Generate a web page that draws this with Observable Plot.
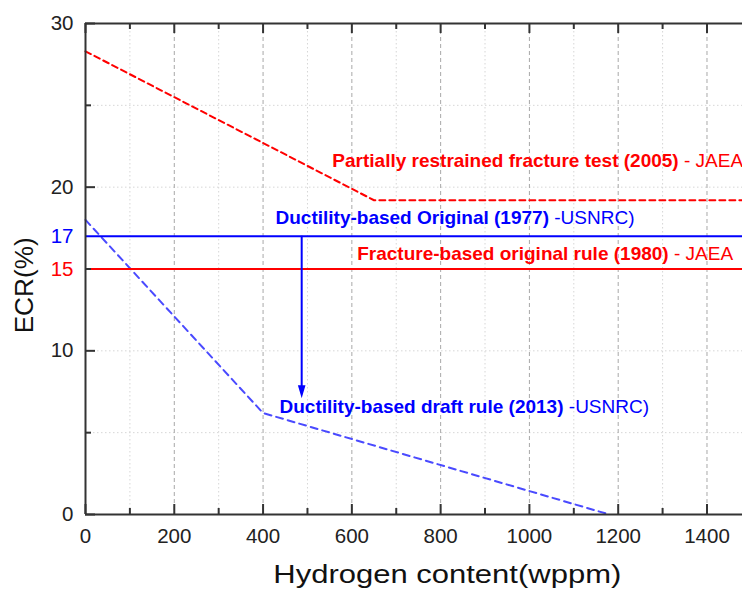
<!DOCTYPE html>
<html>
<head>
<meta charset="utf-8">
<script src="https://cdn.jsdelivr.net/npm/d3@7"></script>
<script src="https://cdn.jsdelivr.net/npm/@observablehq/plot@0.6"></script>
<style>
  html, body { margin: 0; padding: 0; background: #fff; }
</style>
</head>
<body>
<div id="chart"></div>
<script>
// ---- data ----
const xMajorTicks = [0, 200, 400, 600, 800, 1000, 1200, 1400];
const xMinorTicks = [100, 300, 500, 700, 900, 1100, 1300];
const yMajorTicks = [0, 10, 20, 30];
const yMinorTicks = [5, 15, 25];
const xDomain = [0, 1480];
const yDomain = [0, 30];

// Partially restrained fracture test (2005) - JAEA
const partialHydrogen = [0, 650, 1480];
const partialECR = [28.3, 19.2, 19.2];
// Ductility-based draft rule (2013) - USNRC
const draftHydrogen = [0, 400, 1180];
const draftECR = [18.0, 6.2, 0];
// Original limits
const originalUSNRC = 17;
const originalJAEA = 15;
// arrow from original to draft rule
const arrowHydrogen = 487;
const arrowFrom = 17;
const arrowTo = 7.1;

// annotation labels
const labelBold = [
  "Partially restrained fracture test (2005)",
  "Ductility-based Original (1977)",
  "Fracture-based original rule (1980)",
  "Ductility-based draft rule (2013)"
];
const labelNormal = [" - JAEA", " -USNRC)", " - JAEA", " -USNRC)"];
const labelHydrogen = [556, 428, 612, 437];
const labelECR = [21.22, 17.78, 15.58, 6.23];
const labelSeries = ["red", "blue", "red", "blue"];

const xTitle = "Hydrogen content(wppm)";
const yTitle = "ECR(%)";

// ---- layout ----
const W = 742, H = 589;
const mL = 85, mR = 0, mT = 23, mB = 75;
const frameW = W - mL - mR, frameH = H - mT - mB;
const FONT = "'Liberation Sans', Arial, Helvetica, sans-serif";

const partial = partialHydrogen.map((h, i) => ({h, e: partialECR[i]}));
const draft = draftHydrogen.map((h, i) => ({h, e: draftECR[i]}));
const labels = labelBold.map((b, i) => ({
  full: b + labelNormal[i], bold: b, normal: labelNormal[i],
  h: labelHydrogen[i], e: labelECR[i], c: labelSeries[i]
}));
const arrow = [{h: arrowHydrogen, e1: arrowFrom, e2: arrowTo}];

const arrowHead = {
  draw(ctx) {
    ctx.moveTo(0, 0);
    ctx.lineTo(-3.8, -13);
    ctx.lineTo(3.8, -13);
    ctx.closePath();
  }
};

const axisColor = "#333";
const tickFont = 20.5;

const chart = Plot.plot({
  width: W, height: H,
  marginLeft: mL, marginRight: mR, marginTop: mT, marginBottom: mB,
  x: {domain: xDomain},
  y: {domain: yDomain},
  style: {fontFamily: FONT, fontSize: "20px", color: "#222", background: "white"},
  marks: [
    // grid
    Plot.ruleX(xMinorTicks, {x: d => d, stroke: "#d6d6d6", strokeDasharray: "1.5,2.5"}),
    Plot.ruleY([...yMinorTicks, 10, 20], {y: d => d, stroke: "#d6d6d6", strokeDasharray: "1.5,2.5"}),
    Plot.ruleX(xMajorTicks.filter(d => d > 0), {x: d => d, stroke: "#a8a8a8", strokeDasharray: "4,3"}),
    // series
    Plot.line(partial, {x: "h", y: "e", stroke: "#ff0000", strokeWidth: 2, strokeDasharray: "6,4"}),
    Plot.line(draft, {x: "h", y: "e", stroke: "#4a4aff", strokeWidth: 2, strokeDasharray: "7,5"}),
    Plot.ruleY([originalUSNRC], {y: d => d, stroke: "#0000ff", strokeWidth: 2}),
    Plot.ruleY([originalJAEA], {y: d => d, stroke: "#ff0000", strokeWidth: 2}),
    // arrow
    Plot.ruleX(arrow, {x: "h", y1: "e1", y2: d => d.e2 + 0.6, stroke: "#0000ff", strokeWidth: 2}),
    Plot.dot(arrow, {x: "h", y: "e2", symbol: arrowHead, fill: "#0000ff", stroke: "none", r: 5}),
    // frame
    Plot.ruleX([xDomain[0]], {x: d => d, stroke: axisColor, strokeWidth: 2}),
    Plot.ruleY([yDomain[0]], {y: d => d, stroke: axisColor, strokeWidth: 2}),
    Plot.ruleY([yDomain[1]], {y: d => d, stroke: axisColor, strokeWidth: 2}),
    // inward ticks
    Plot.tickX(xMajorTicks, {x: d => d, stroke: axisColor, strokeWidth: 2, insetTop: frameH - 10}),
    Plot.tickX(xMinorTicks, {x: d => d, stroke: axisColor, strokeWidth: 2, insetTop: frameH - 6}),
    Plot.tickX(xMajorTicks, {x: d => d, stroke: axisColor, strokeWidth: 2, insetBottom: frameH - 10}),
    Plot.tickX(xMinorTicks, {x: d => d, stroke: axisColor, strokeWidth: 2, insetBottom: frameH - 6}),
    Plot.tickY(yMajorTicks, {y: d => d, stroke: axisColor, strokeWidth: 2, insetRight: frameW - 10}),
    Plot.tickY(yMinorTicks, {y: d => d, stroke: axisColor, strokeWidth: 2, insetRight: frameW - 6}),
    // tick labels
    Plot.axisX(xMajorTicks, {tickSize: 0, tickPadding: 14, fontSize: tickFont, label: null, color: "#222", tickFormat: d => String(d)}),
    Plot.axisY(yMajorTicks, {tickSize: 0, tickPadding: 12, fontSize: tickFont, label: null, color: "#222", tickFormat: d => String(d)}),
    Plot.axisY([originalUSNRC], {tickSize: 0, tickPadding: 12, fontSize: tickFont, label: null, color: "#0000ff", tickFormat: d => String(d)}),
    Plot.axisY([originalJAEA], {tickSize: 0, tickPadding: 12, fontSize: tickFont, label: null, color: "#ff0000", tickFormat: d => String(d)}),
    // annotations
    Plot.text(labels.filter(d => d.c === "red"), {x: "h", y: "e", text: "full", textAnchor: "start", lineAnchor: "bottom",
      fontSize: 19, fontWeight: "bold", fill: "#ff0000"}),
    Plot.text(labels.filter(d => d.c === "blue"), {x: "h", y: "e", text: "full", textAnchor: "start", lineAnchor: "bottom",
      fontSize: 19, fontWeight: "bold", fill: "#0000ff"}),
    // axis titles
    Plot.text([yTitle], {text: d => d, frameAnchor: "left", y: () => 14, dx: -61, rotate: -90,
      textAnchor: "middle", lineAnchor: "middle", fontSize: 25, fill: "#111"}),
    Plot.text([xTitle], {text: d => d, frameAnchor: "bottom", x: () => 815, dy: 68,
      textAnchor: "middle", lineAnchor: "bottom", fontSize: 25, fill: "#111"})
  ]
});

const ns = "http://www.w3.org/2000/svg";
// split annotation text into bold + normal parts
const byFull = new Map(labels.map(d => [d.full, d]));
chart.querySelectorAll("text").forEach(t => {
  const d = byFull.get(t.textContent);
  if (d) {
    t.textContent = "";
    const b = document.createElementNS(ns, "tspan");
    b.textContent = d.bold;
    const n = document.createElementNS(ns, "tspan");
    n.setAttribute("font-weight", "normal");
    n.textContent = d.normal;
    t.appendChild(b);
    t.appendChild(n);
  } else if (t.textContent === xTitle) {
    t.setAttribute("textLength", 348);
    t.setAttribute("lengthAdjust", "spacingAndGlyphs");
  } else if (t.textContent === yTitle) {
    t.setAttribute("textLength", 96);
    t.setAttribute("lengthAdjust", "spacingAndGlyphs");
  }
});

document.getElementById("chart").appendChild(chart);
</script>
</body>
</html>
